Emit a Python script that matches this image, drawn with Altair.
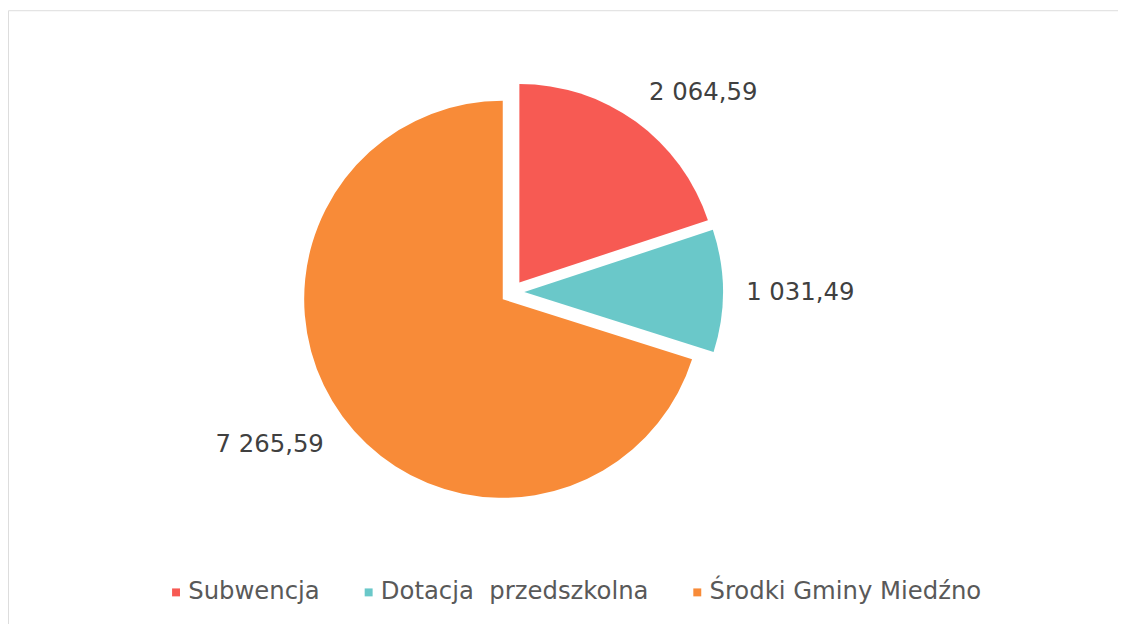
import altair as alt
import pandas as pd

categories = ["Subwencja", "Dotacja  przedszkolna", "Środki Gminy Miedźno"]
values = [2064.59, 1031.49, 7265.59]
colors = ["#F75A53", "#6AC8C9", "#F88B38"]

df = pd.DataFrame({"kategoria": categories, "wartosc": values, "kolejnosc": [0, 1, 2]})

R = 200            # pie radius in px
EXPLODE = 0.06     # explode distance, in radius units
LABEL_R = 1.18     # label anchor distance, in radius units
HALF_W = 0.27      # half label width, in radius units
HALF_H = 0.06      # half label height, in radius units
CX, CY = 508, 284  # pie centre inside the view

xscale = alt.Scale(domain=[-1, 1], range=[CX - R, CX + R])
yscale = alt.Scale(domain=[-1, 1], range=[CY + R, CY - R])

base = (
    alt.Chart(df)
    .transform_window(cum="sum(wartosc)", sort=[alt.SortField("kolejnosc")], frame=[None, 0])
    .transform_joinaggregate(total="sum(wartosc)")
    .transform_calculate(
        t0="2*PI*(datum.cum - datum.wartosc)/datum.total",
        t1="2*PI*datum.cum/datum.total",
    )
    .transform_calculate(mid="(datum.t0 + datum.t1)/2")
    .transform_calculate(
        ex=f"{EXPLODE}*sin(datum.mid)",
        ey=f"{EXPLODE}*cos(datum.mid)",
        lx=f"{LABEL_R}*sin(datum.mid) + {HALF_W}*clamp(3*sin(datum.mid), -1, 1)",
        ly=f"{LABEL_R}*cos(datum.mid) + {HALF_H}*clamp(3*cos(datum.mid), -1, 1)",
    )
)

pie = base.mark_arc(radius=R, stroke=None).encode(
    theta=alt.Theta("t0:Q", scale=None),
    theta2="t1:Q",
    x=alt.X("ex:Q", scale=xscale, axis=None, stack=None),
    y=alt.Y("ey:Q", scale=yscale, axis=None, stack=None),
    color=alt.Color(
        "kategoria:N",
        scale=alt.Scale(domain=categories, range=colors),
        sort=categories,
        legend=alt.Legend(
            title=None,
            orient="none",
            direction="horizontal",
            legendX=157,
            legendY=574,
            symbolType="square",
            symbolSize=64,
            symbolStrokeWidth=0,
            labelFontSize=24.5,
            labelFont="DejaVu Sans",
            labelColor="#595959",
            labelOffset=0,
            labelLimit=0,
            columnPadding=36,
            padding=0,
            labelExpr="replace(datum.label, '  ', '\u00a0 ')",
        ),
    ),
)

labels = base.mark_text(
    fontSize=24.5, font="DejaVu Sans", color="#404040", align="center", baseline="middle", dy=3
).encode(
    x=alt.X("lx:Q", scale=xscale, axis=None, stack=None),
    y=alt.Y("ly:Q", scale=yscale, axis=None, stack=None),
    text=alt.Text("wartosc:Q", format=",.2f"),
)

chart = (
    alt.layer(pie, labels)
    .properties(width=1118, height=620, padding=0, autosize=alt.AutoSizeParams(type="none"))
    .configure_view(stroke="#D9D9D9", strokeWidth=2)
    .configure(locale={"number": {"decimal": ",", "thousands": " ", "grouping": [3], "currency": ["", " zł"]}})
)

chart.save("out.html", embed_options={"renderer": "svg", "actions": False})
